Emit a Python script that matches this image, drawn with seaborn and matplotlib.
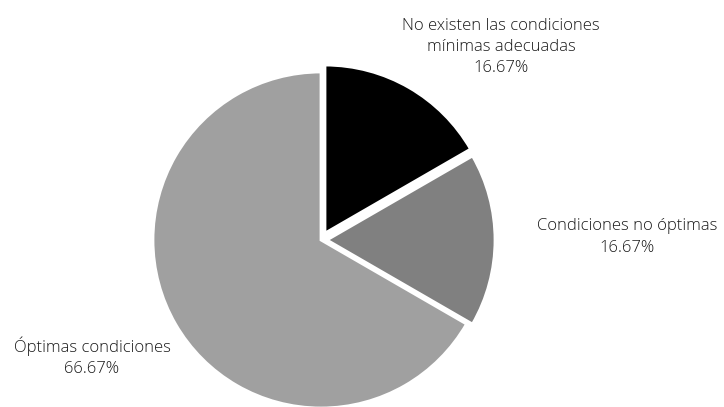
import matplotlib
matplotlib.use("Agg")
import matplotlib.pyplot as plt
import seaborn as sns

# Survey result: condition of the facilities
categories = ["No existen las condiciones\nmínimas adecuadas",
              "Condiciones no óptimas",
              "Óptimas condiciones"]
shares = [16.67, 16.67, 66.67]
colors = ["#000000", "#808080", "#a0a0a0"]

sns.set_theme(style="white")
plt.rcParams["font.family"] = ["Open Sans", "DejaVu Sans"]

W, H = 724, 407
fig = plt.figure(figsize=(W / 100, H / 100), dpi=100)
ax = fig.add_axes([0, 0, 1, 1])

cx, cy, r = 321, H - 240, 168
# wedge offsets are in data units (pixels here)
offsets = [8, 6, 0]
ax.pie(shares, colors=colors, explode=offsets, startangle=90,
       counterclock=False, center=(cx, cy), radius=r,
       wedgeprops=dict(edgecolor="white", linewidth=2.0), frame=False)

ax.set_xlim(0, W)
ax.set_ylim(0, H)
ax.set_axis_off()

label_pos = [(501, H - 47), (627, H - 237), (92, H - 357)]
for name, val, (x, y) in zip(categories, shares, label_pos):
    ax.text(x, y, f"{name}\n{val:.2f}%", ha="center", va="center",
            fontsize=12, fontweight="light", color="#1a1a1a",
            linespacing=1.45)

fig.savefig("out.png", dpi=100)
